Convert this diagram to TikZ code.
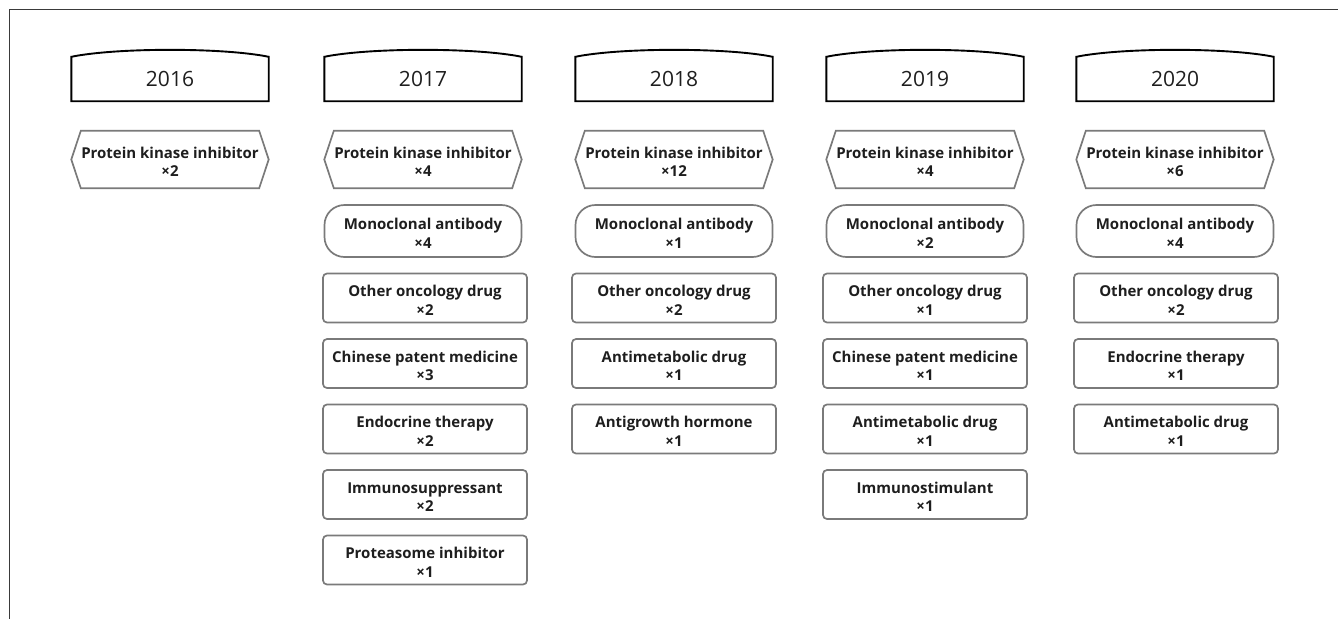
\documentclass[tikz,border=0pt]{standalone}
\usepackage{fontspec}
\setmainfont{Open Sans}
\usetikzlibrary{calc}
\definecolor{txt}{HTML}{1E1E1E}
\definecolor{edge}{HTML}{7A7A7A}
\definecolor{frame}{HTML}{3A3A3A}
\tikzset{
  yearlbl/.style={rectangle,inner sep=0pt,minimum width=197pt,minimum height=44pt,text=txt,font=\fontsize{21}{24}\selectfont},
  yearedge/.style={draw=black,line width=1.9pt,line join=miter},
  hexshape/.style={rectangle,inner sep=0pt,minimum width=197pt,minimum height=57pt},
  hexedge/.style={draw=edge,line width=1.7pt,line join=miter},
  monobox/.style={rectangle,draw=edge,line width=1.7pt,rounded corners=20pt,inner sep=0pt,minimum width=197pt,minimum height=52pt},
  drugbox/.style={rectangle,draw=edge,line width=1.7pt,rounded corners=4pt,inner sep=0pt,minimum width=204pt,minimum height=49pt},
  drugtxt/.style={inner sep=0pt,align=center,text=txt,font=\bfseries\fontsize{15}{18.5}\selectfont},
}
\newcommand{\mkyear}[3]{%
  \node[yearlbl] (#1) at (#2,79) {#3};
  \draw[yearedge] (#1.north west) -- (#1.south west) -- (#1.south east) -- (#1.north east)
    .. controls ($(#1.north east)+(-45,-9.3)$) and ($(#1.north west)+(45,-9.3)$) .. cycle;
}
\newcommand{\mkhex}[3]{%
  \node[hexshape] (#1) at (#2,159.5) {};
  \draw[hexedge] (#1.west) -- ($(#1.north west)+(9.5,0)$) -- ($(#1.north east)+(-9.5,0)$)
    -- (#1.east) -- ($(#1.south east)+(-9.5,0)$) -- ($(#1.south west)+(9.5,0)$) -- cycle;
  \node[drugtxt] (#1t) at ($(#1.center)+(0,2.5)$) {#3};
}
\newcommand{\mkmono}[4]{%
  \node[monobox] (#1) at (#2,#3) {};
  \node[drugtxt] (#1t) at ($(#1.center)+(0,2.5)$) {#4};
}
\newcommand{\mkdrug}[4]{%
  \node[drugbox] (#1) at (#2,#3) {};
  \node[drugtxt] (#1t) at ($(#1.center)+(0,2.5)$) {#4};
}
\begin{document}
\begin{tikzpicture}[x=1pt,y=-1pt]
\useasboundingbox (0,0) rectangle (1338,619);
\coordinate (ftop) at (1338,9.5);
\coordinate (fcorner) at (9.5,9.5);
\coordinate (fbot) at (9.5,619);
\draw[frame,line width=1.8pt] (ftop) -- (fcorner) -- (fbot);

% 2016
\mkyear{y16}{170}{2016}
\mkhex{p16}{170}{Protein kinase inhibitor\\×2}

% 2017
\mkyear{y17}{423}{2017}
\mkhex{p17}{423}{Protein kinase inhibitor\\×4}
\mkmono{m17}{423}{231}{Monoclonal antibody\\×4}
\mkdrug{a17}{425}{298}{Other oncology drug\\×2}
\mkdrug{b17}{425}{363.5}{Chinese patent medicine\\×3}
\mkdrug{c17}{425}{429}{Endocrine therapy\\×2}
\mkdrug{d17}{425}{494.5}{Immunosuppressant\\×2}
\mkdrug{e17}{425}{560}{Proteasome inhibitor\\×1}

% 2018
\mkyear{y18}{674}{2018}
\mkhex{p18}{674}{Protein kinase inhibitor\\×12}
\mkmono{m18}{674}{231}{Monoclonal antibody\\×1}
\mkdrug{a18}{674}{298}{Other oncology drug\\×2}
\mkdrug{b18}{674}{363.5}{Antimetabolic drug\\×1}
\mkdrug{c18}{674}{429}{Antigrowth hormone\\×1}

% 2019
\mkyear{y19}{925}{2019}
\mkhex{p19}{925}{Protein kinase inhibitor\\×4}
\mkmono{m19}{925}{231}{Monoclonal antibody\\×2}
\mkdrug{a19}{925}{298}{Other oncology drug\\×1}
\mkdrug{b19}{925}{363.5}{Chinese patent medicine\\×1}
\mkdrug{c19}{925}{429}{Antimetabolic drug\\×1}
\mkdrug{d19}{925}{494.5}{Immunostimulant\\×1}

% 2020
\mkyear{y20}{1175}{2020}
\mkhex{p20}{1175}{Protein kinase inhibitor\\×6}
\mkmono{m20}{1175}{231}{Monoclonal antibody\\×4}
\mkdrug{a20}{1176}{298}{Other oncology drug\\×2}
\mkdrug{b20}{1176}{363.5}{Endocrine therapy\\×1}
\mkdrug{c20}{1176}{429}{Antimetabolic drug\\×1}
\end{tikzpicture}
\end{document}
